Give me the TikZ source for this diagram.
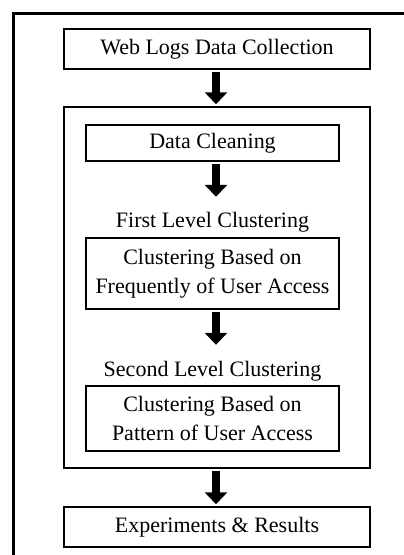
\documentclass[tikz,border=0pt]{standalone}
\usepackage{fontspec}
\setmainfont{Liberation Serif}
\usetikzlibrary{arrows.meta}
\tikzset{
  boxw/.style={draw, line width=1.5pt, minimum width=306pt, inner sep=0pt, align=center, font=\fontsize{22}{29}\selectfont},
  boxn/.style={draw, line width=1.5pt, minimum width=253pt, inner sep=0pt, align=center, font=\fontsize{22}{29}\selectfont},
  lbl/.style={inner xsep=0pt, inner ysep=14pt, text height=15pt, text depth=5pt, font=\fontsize{22}{29}\selectfont},
  bigarrow/.style={line width=8pt, -{Triangle[width=22pt,length=12pt]}, shorten <=2pt, shorten >=2pt}
}
\begin{document}
\begin{tikzpicture}[x=1pt,y=-1pt]
\useasboundingbox (0,0) rectangle (404,555);
% outer frame (cropped)
\draw[line width=3pt] (13.5,560) -- (13.5,13.5) -- (410,13.5);
\node[boxw, minimum height=40pt] (web) at (217,49) {Web Logs Data Collection};
\node[boxw, minimum height=361pt] (big) at (217,287.5) {};
\node[boxn, minimum height=36pt] (clean) at (212.5,143) {Data Cleaning};
\node[lbl] (first) at (212.5,222) {First Level Clustering};
\node[boxn, minimum height=71pt] (freq) at (212.5,273.5) {Clustering Based on\\Frequently of User Access};
\node[lbl] (second) at (212.5,371) {Second Level Clustering};
\node[boxn, minimum height=65pt] (patt) at (212.5,418.5) {Clustering Based on\\Pattern of User Access};
\node[boxw, minimum height=40pt] (exp) at (217,527) {Experiments \& Results};
\draw[bigarrow] (web.south -| 216,0) -- (big.north -| 216,0);
\draw[bigarrow, shorten >=1pt] (clean.south -| 216,0) -- (first.north -| 216,0);
\draw[bigarrow] (freq.south -| 216,0) -- (second.north -| 216,0);
\draw[bigarrow] (big.south -| 216,0) -- (exp.north -| 216,0);
\end{tikzpicture}
\end{document}
